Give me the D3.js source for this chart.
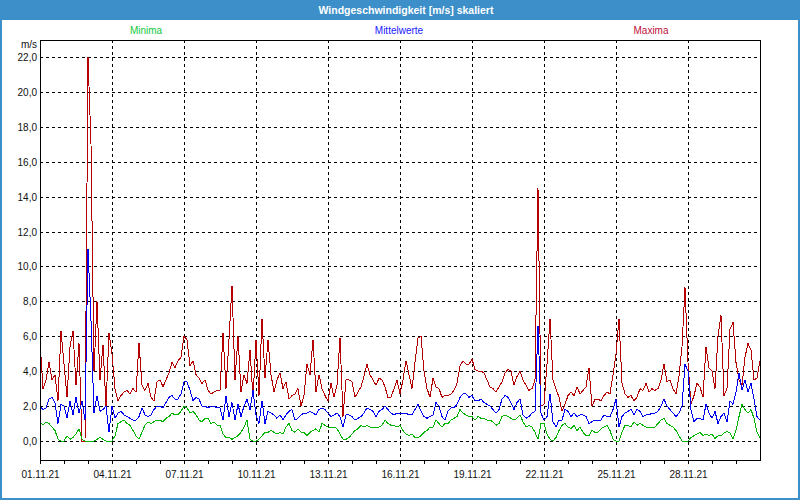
<!DOCTYPE html>
<html><head><meta charset="utf-8">
<script src="https://cdn.jsdelivr.net/npm/d3@7"></script>
<style>body{margin:0;background:#fff} text{font-family:"Liberation Sans",Arial,sans-serif}</style>
</head><body><svg id="c" width="800" height="500"></svg>
<script>
// ---- data (3-hour samples, 01.11.21 00:00 .. 01.12.21 00:00) ----
const startDate = Date.UTC(2021, 10, 1);
const endDate = Date.UTC(2021, 11, 1);
const stepHours = 3;
const seriesNames = ["Minima", "Mittelwerte", "Maxima"];
const yTickValues = [0, 2, 4, 6, 8, 10, 12, 14, 16, 18, 20, 22];
const xTickLabels = ["01.11.21","04.11.21","07.11.21","10.11.21","13.11.21","16.11.21","19.11.21","22.11.21","25.11.21","28.11.21"];

const maxima = [
 5.7,3.0,3.5,4.5,3.5,3.8,2.3,6.3,
 4.4,2.5,5.4,6.3,3.2,5.6,0.0,0.0,
 22.0,17.0,4.0,8.0,3.5,5.5,2.0,6.2,
 5.0,3.0,2.3,2.6,2.8,2.9,2.7,3.0,
 2.8,5.6,3.2,2.9,3.3,2.5,2.3,3.4,
 3.5,3.1,3.5,3.9,4.5,4.2,4.6,4.8,
 6.0,5.8,4.3,4.6,3.8,3.6,3.3,3.5,
 2.9,2.7,2.8,2.9,2.9,6.2,3.0,5.8,
 8.9,3.5,6.0,2.8,3.8,3.3,5.2,2.5,
 5.8,2.6,7.0,3.6,5.8,3.8,2.8,3.5,
 3.9,3.0,3.4,2.4,2.6,2.7,3.0,2.0,
 2.6,4.4,3.8,5.8,2.8,3.8,3.0,2.6,
 2.3,3.3,2.5,3.2,5.9,1.4,3.5,3.5,
 3.4,2.5,2.8,3.1,3.7,4.4,3.8,3.5,
 3.2,3.6,3.5,3.1,2.5,2.5,3.0,3.5,
 2.7,3.5,4.6,3.8,3.0,4.5,5.9,6.0,
 4.0,3.0,2.5,3.6,3.1,3.0,2.5,2.6,
 2.6,2.7,2.9,3.3,4.3,4.6,4.4,4.4,
 4.7,4.1,4.0,4.0,3.9,3.5,3.1,3.0,
 2.8,3.1,3.4,3.9,4.1,4.0,3.2,3.7,
 4.0,3.5,3.2,2.9,3.0,3.5,14.5,2.0,
 2.1,4.4,7.0,3.5,3.0,2.5,1.7,2.1,
 2.6,2.8,2.6,3.1,2.7,2.9,3.1,4.2,
 2.0,2.4,2.4,2.3,2.6,2.8,2.7,3.8,
 5.0,7.0,3.3,2.7,2.5,2.6,2.3,2.5,
 3.0,2.9,3.3,2.8,3.0,2.9,3.0,3.5,
 4.4,3.4,3.5,3.0,2.7,3.7,5.4,8.8,
 4.5,2.1,2.6,3.3,3.1,2.5,5.4,4.2,
 4.0,3.0,6.0,7.2,2.6,3.0,6.4,6.8,
 4.5,3.5,3.2,4.8,5.6,5.2,3.5,3.6,
 4.6];

const mittelwerte = [
 2.0,1.8,1.9,2.4,2.5,2.2,1.0,2.1,
 2.0,1.3,2.3,1.5,2.5,1.6,2.3,1.2,
 11.0,6.9,1.6,2.6,1.7,1.8,2.0,0.5,
 2.0,1.3,1.6,1.7,1.5,1.4,1.3,1.2,
 1.2,1.4,1.9,1.5,1.4,1.5,1.8,2.0,
 2.0,1.9,2.2,2.5,2.6,2.4,2.4,2.7,
 3.4,3.4,2.9,2.3,2.5,2.4,2.0,2.0,
 1.9,2.0,2.0,1.9,1.9,1.2,2.6,1.4,
 2.2,1.2,2.1,1.4,2.0,2.4,1.8,2.9,
 1.5,1.0,2.3,1.0,1.7,1.6,1.5,1.3,
 1.5,1.2,1.5,1.7,1.8,1.2,1.3,1.5,
 1.6,1.6,1.7,1.6,1.5,1.8,1.9,1.8,
 1.6,1.4,1.5,1.6,1.4,0.8,1.5,1.5,
 1.4,1.2,1.3,1.4,1.6,1.9,1.8,1.7,
 1.4,1.7,1.8,2.0,1.8,1.6,1.5,1.6,
 1.6,1.6,1.6,1.5,1.5,1.8,2.1,1.7,
 1.4,1.3,1.4,1.5,2.2,2.0,1.4,1.2,
 1.7,1.9,1.9,2.1,2.5,2.7,2.7,2.5,
 2.6,2.3,2.3,2.4,2.2,2.1,2.0,1.8,
 1.6,1.8,2.4,2.6,2.5,2.2,1.8,2.2,
 2.4,1.5,1.3,1.4,1.6,1.7,6.6,1.6,
 1.2,1.4,2.7,1.1,0.8,1.2,1.2,1.8,
 1.7,1.4,1.6,1.4,1.5,1.5,1.4,1.0,
 1.1,1.2,1.2,1.2,1.5,1.4,1.4,1.8,
 2.4,0.8,1.4,1.6,1.7,1.8,1.5,1.8,
 1.7,1.4,1.5,1.5,1.6,1.6,1.7,2.0,
 2.4,2.0,1.8,1.6,1.4,1.6,2.0,4.4,
 4.0,1.8,1.1,1.3,1.3,1.2,2.1,1.6,
 1.3,1.7,1.0,1.4,1.6,1.1,2.3,2.1,
 2.8,3.9,2.9,3.5,2.8,3.3,2.4,1.4,
 1.2];

const minima = [
 1.1,0.9,1.1,1.0,0.8,0.6,0.1,0.0,
 0.0,0.3,0.1,0.2,0.4,0.7,0.1,0.0,
 0.0,0.0,0.0,0.1,0.2,0.1,0.0,0.0,
 0.0,0.3,1.0,1.1,1.2,1.0,0.9,0.6,
 0.3,0.1,0.5,0.9,1.1,1.0,1.1,1.2,
 1.2,1.1,1.3,1.4,1.6,1.5,1.5,1.7,
 2.0,1.9,1.6,1.7,1.5,1.2,1.1,1.3,
 1.3,1.0,1.1,0.9,0.9,0.4,0.2,0.2,
 0.1,0.2,0.3,0.5,0.8,1.2,0.1,0.0,
 0.0,0.1,0.3,0.5,0.5,0.6,0.5,0.4,
 0.5,0.4,0.8,1.0,0.6,0.5,0.7,0.5,
 0.5,0.3,0.5,0.6,0.7,0.5,1.0,0.9,
 0.8,0.8,0.8,0.7,0.4,0.1,0.1,0.2,
 0.4,0.6,0.7,0.9,0.8,0.9,0.8,0.8,
 0.8,0.8,0.9,1.2,1.0,0.9,0.9,0.8,
 0.9,0.6,0.4,0.3,0.4,0.2,0.2,0.3,
 0.5,0.6,0.8,0.8,1.2,1.0,0.8,1.0,
 1.0,1.2,1.3,1.4,1.8,1.6,1.5,1.4,
 1.4,1.2,1.4,1.3,1.3,1.2,1.2,1.1,
 0.9,1.0,1.4,1.5,1.4,1.3,1.2,1.3,
 1.5,1.1,0.8,0.9,0.8,0.5,0.1,1.0,
 1.0,0.4,0.1,0.0,0.2,0.6,0.9,1.0,
 0.8,0.7,0.9,0.6,0.8,0.5,0.3,0.3,
 0.6,0.5,0.5,0.7,0.8,0.9,0.6,0.1,
 0.0,0.0,0.5,0.9,0.9,0.8,1.1,0.9,
 1.0,0.9,0.8,0.8,0.8,0.8,1.0,1.2,
 1.3,1.0,0.9,0.8,0.6,0.3,0.0,0.0,
 0.0,0.2,0.3,0.4,0.5,0.3,0.4,0.3,
 0.4,0.15,0.3,0.3,0.45,0.55,0.45,0.1,
 0.6,1.4,2.1,1.8,1.6,1.8,1.3,0.5,
 0.2];

// ---- drawing ----
const svg = d3.select("#c");
const W = 800, H = 500;
const plot = {left: 40, top: 40, right: 760, bottom: 460};

svg.append("rect").attr("x",0).attr("y",0).attr("width",W).attr("height",H).attr("fill","#fff");
svg.append("rect").attr("x",1).attr("y",1).attr("width",W-2).attr("height",H-2)
   .attr("fill","none").attr("stroke","#3c8fc8").attr("stroke-width",2);
svg.append("rect").attr("x",0).attr("y",0).attr("width",W).attr("height",20).attr("fill","#3c8fc8");
svg.append("text").attr("x",406).attr("y",14).attr("text-anchor","middle")
   .attr("font-size","10.5px").attr("font-weight","bold").attr("fill","#fff")
   .text("Windgeschwindigkeit [m/s] skaliert");

const x = d3.scaleUtc().domain([startDate, endDate]).range([plot.left, plot.right]);
const y = d3.scaleLinear().domain([-19/17.4545, 22 + 17/17.4545]).range([plot.bottom, plot.top]);

const colors = {Minima: "#00b400", Mittelwerte: "#0000f0", Maxima: "#b40000"};
const legendX = {Minima: 146, Mittelwerte: 399, Maxima: 651};
const legendColors = {Minima: "#10c840", Mittelwerte: "#2020ff", Maxima: "#c0103c"};
seriesNames.forEach(n => {
  svg.append("text").attr("x", legendX[n]).attr("y", 34).attr("text-anchor","middle")
     .attr("font-size","10px").attr("fill", legendColors[n]).text(n);
});

// grid
const g = svg.append("g");
yTickValues.forEach(v => {
  const yy = Math.round(y(v)) + 0.5;
  g.append("line").attr("x1",plot.left).attr("x2",plot.right).attr("y1",yy).attr("y2",yy)
   .attr("stroke","#000").attr("stroke-dasharray","3,3").attr("shape-rendering","crispEdges");
  g.append("text").attr("x",37).attr("y",yy).attr("dy","0.35em").attr("text-anchor","end")
   .attr("font-size","10px").attr("fill","#111").text(d3.format(".1f")(v).replace(".", ","));
});
svg.append("text").attr("x",37).attr("y",48).attr("text-anchor","end")
   .attr("font-size","10px").attr("fill","#111").text("m/s");

const parseLbl = d3.utcParse("%d.%m.%y");
const fmtLbl = d3.utcFormat("%d.%m.%y");
xTickLabels.forEach(lbl => {
  const d = parseLbl(lbl);
  const xx = Math.round(x(d)) + 0.5;
  if (xx > plot.left + 1) {
    g.append("line").attr("x1",xx).attr("x2",xx).attr("y1",plot.top).attr("y2",plot.bottom)
     .attr("stroke","#000").attr("stroke-dasharray","3,3").attr("shape-rendering","crispEdges");
  }
  g.append("text").attr("x",xx).attr("y",478).attr("text-anchor","middle")
   .attr("font-size","10px").attr("fill","#111").text(fmtLbl(d));
});
// daily ticks
d3.utcDays(startDate, endDate).forEach(d => {
  const xx = Math.round(x(d)) + 0.5;
  g.append("line").attr("x1",xx).attr("x2",xx).attr("y1",plot.bottom).attr("y2",plot.bottom+4)
   .attr("stroke","#000").attr("shape-rendering","crispEdges");
});

// series
svg.append("clipPath").attr("id","clip").append("rect")
   .attr("x",plot.left).attr("y",plot.top).attr("width",plot.right-plot.left).attr("height",plot.bottom-plot.top);
const toPts = arr => arr.map((v,i) => ({t: new Date(startDate + i*stepHours*3600e3), v}));
const line = d3.line().x(d => x(d.t)).y(d => y(d.v));
const lines = svg.append("g").attr("clip-path","url(#clip)");
[["Maxima", maxima], ["Mittelwerte", mittelwerte], ["Minima", minima]].forEach(([n, arr]) => {
  lines.append("path").datum(toPts(arr)).attr("d", line).attr("fill","none")
    .attr("stroke", colors[n]).attr("stroke-width",1).attr("stroke-linejoin","miter")
    .attr("shape-rendering","crispEdges");
});

// frame
svg.append("rect").attr("x",plot.left+0.5).attr("y",plot.top+0.5)
   .attr("width",plot.right-plot.left).attr("height",plot.bottom-plot.top)
   .attr("fill","none").attr("stroke","#000").attr("shape-rendering","crispEdges");
</script></body></html>
